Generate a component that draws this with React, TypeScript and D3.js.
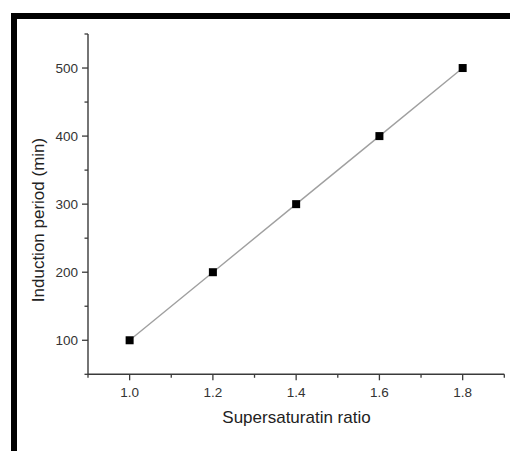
import React from "react";
import * as d3 from "d3";

const ratios = [1.0, 1.2, 1.4, 1.6, 1.8];
const induction = [100, 200, 300, 400, 500];
const xMajorTicks = [1.0, 1.2, 1.4, 1.6, 1.8];
const xMinorTicks = [0.9, 1.1, 1.3, 1.5, 1.7, 1.9];
const yMajorTicks = [100, 200, 300, 400, 500];
const yMinorTicks = [50, 150, 250, 350, 450, 550];

const W = 510;
const H = 451;

export default function App() {
  const x = d3.scaleLinear().domain([0.9, 1.9]).range([88, 504.3]);
  const y = d3.scaleLinear().domain([50, 550]).range([374.3, 34]);
  const pts = ratios.map((r, i) => [r, induction[i]] as [number, number]);
  const line = d3
    .line<[number, number]>()
    .x((d) => x(d[0]))
    .y((d) => y(d[1]));
  const axisColor = "#3a3a3a";
  const font = "'Liberation Sans', Arial, sans-serif";
  const x0 = x.range()[0];
  const yb = y.range()[0];
  return (
    <svg
      width={W}
      height={H}
      style={{ position: "absolute", left: 0, top: 0, background: "#fff" }}
    >
      <rect x={0} y={0} width={W} height={H} fill="#fff" />
      {/* frame */}
      <rect x={11} y={13} width={W - 11} height={6} fill="#000" />
      <rect x={11} y={13} width={6} height={H - 13} fill="#000" />

      {/* data line */}
      <path d={line(pts) || ""} fill="none" stroke="#a0a0a0" strokeWidth={1.4} />
      {pts.map((d, i) => (
        <rect
          key={i}
          x={x(d[0]) - 4}
          y={y(d[1]) - 4}
          width={8}
          height={8}
          fill="#000"
        />
      ))}

      {/* axes */}
      <line x1={x0} x2={x0} y1={y.range()[1]} y2={yb} stroke={axisColor} strokeWidth={1.4} />
      <line x1={x0} x2={x.range()[1]} y1={yb} y2={yb} stroke={axisColor} strokeWidth={1.4} />
      {yMajorTicks.map((t) => (
        <g key={"ym" + t}>
          <line x1={x0 - 6} x2={x0} y1={y(t)} y2={y(t)} stroke={axisColor} strokeWidth={1.3} />
          <text
            x={x0 - 10}
            y={y(t)}
            dy="0.36em"
            textAnchor="end"
            fontSize={13.5}
            fontFamily={font}
            fill="#333"
          >
            {t}
          </text>
        </g>
      ))}
      {yMinorTicks.map((t) => (
        <line key={"yn" + t} x1={x0 - 3.5} x2={x0} y1={y(t)} y2={y(t)} stroke={axisColor} strokeWidth={1.3} />
      ))}
      {xMajorTicks.map((t) => (
        <g key={"xm" + t}>
          <line x1={x(t)} x2={x(t)} y1={yb} y2={yb + 6} stroke={axisColor} strokeWidth={1.3} />
          <text
            x={x(t)}
            y={yb + 23}
            textAnchor="middle"
            fontSize={13.5}
            fontFamily={font}
            fill="#333"
          >
            {t.toFixed(1)}
          </text>
        </g>
      ))}
      {xMinorTicks.map((t) => (
        <line key={"xn" + t} x1={x(t)} x2={x(t)} y1={yb} y2={yb + 3.5} stroke={axisColor} strokeWidth={1.3} />
      ))}

      {/* titles */}
      <text
        x={296.5}
        y={423}
        textAnchor="middle"
        fontSize={17}
        fontFamily={font}
        fill="#222"
      >
        Supersaturatin ratio
      </text>
      <text
        transform={`translate(44,220) rotate(-90)`}
        textAnchor="middle"
        fontSize={17}
        fontFamily={font}
        fill="#222"
      >
        Induction period (min)
      </text>
    </svg>
  );
}
